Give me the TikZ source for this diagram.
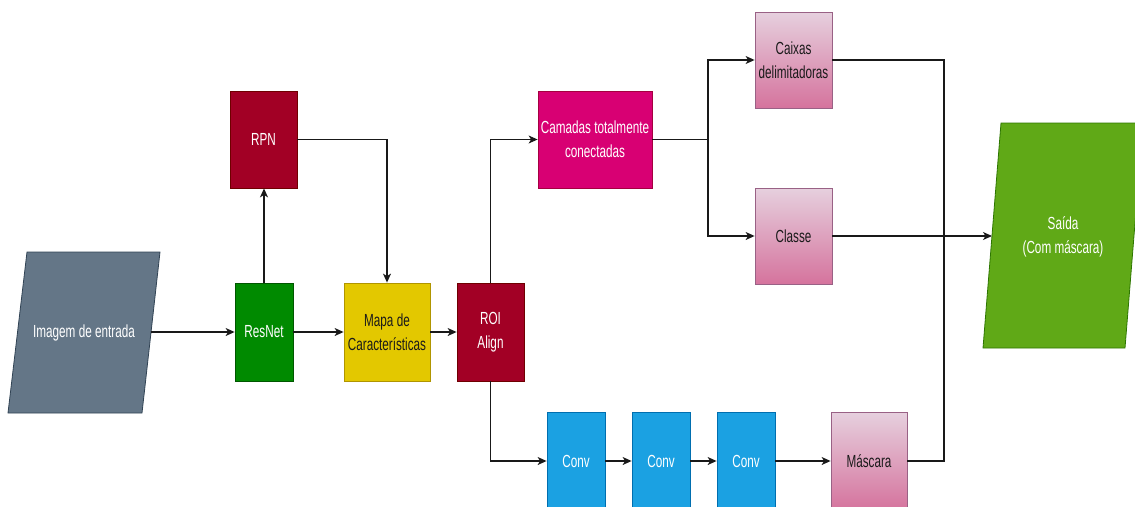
\documentclass[tikz,border=0pt]{standalone}
\usepackage{fontspec}
\setmainfont{Liberation Sans}[FakeStretch=0.67]
\usetikzlibrary{arrows.meta,calc}
\definecolor{inpF}{HTML}{647687}\definecolor{inpD}{HTML}{314354}
\definecolor{grnF}{HTML}{008A00}\definecolor{grnD}{HTML}{005700}
\definecolor{yelF}{HTML}{E3C800}\definecolor{yelD}{HTML}{B09500}
\definecolor{redF}{HTML}{A20025}\definecolor{redD}{HTML}{6F0000}
\definecolor{magF}{HTML}{D80073}\definecolor{magD}{HTML}{A50040}
\definecolor{bluF}{HTML}{1BA1E2}\definecolor{bluD}{HTML}{006EAF}
\definecolor{pnkT}{HTML}{E6D0DE}\definecolor{pnkB}{HTML}{D5739D}\definecolor{pnkD}{HTML}{996185}
\definecolor{outF}{HTML}{60A917}\definecolor{outD}{HTML}{2D7600}
\definecolor{txtD}{HTML}{1A1A1A}
\begin{document}
\begin{tikzpicture}[x=1pt,y=-1pt,
  every node/.style={font=\fontsize{17.5}{24}\selectfont, align=center, inner sep=0pt},
  box/.style={draw, line width=0.8pt, rectangle, text=white},
  pinkbox/.style={box, draw=pnkD, top color=pnkT, bottom color=pnkB, text=txtD},
  conn/.style={line width=1.2pt, draw=black!90},
  arr/.style={conn, -{Stealth[length=9pt,width=8pt,inset=2.5pt]}}]
\useasboundingbox (0,0) rectangle (1135,506);
% input parallelogram
\filldraw[fill=inpF, draw=inpD, line width=0.8pt] (27,252) -- (160,252) -- (142,413) -- (8,413) -- cycle;
\node[text=white] (img) at (84,333) {Imagem de entrada};
\coordinate (imgR) at (151,332);
% output parallelogram
\filldraw[fill=outF, draw=outD, line width=0.8pt] (1001,123) -- (1143,123) -- (1125,348) -- (983,348) -- cycle;
\node[text=white] (out) at (1063,237) {Saída\\(Com máscara)};
\coordinate (outL) at (992,236);
% boxes
\node[box, fill=grnF, draw=grnD, minimum width=58pt, minimum height=98pt] (resnet) at (264,332) {ResNet};
\node[box, fill=yelF, draw=yelD, text=txtD, minimum width=86pt, minimum height=98pt] (mapa) at (387,332) {Mapa de\\Características};
\node[box, fill=redF, draw=redD, minimum width=67pt, minimum height=98pt] (roi) at (490.5,332) {ROI\\Align};
\node[box, fill=redF, draw=redD, minimum width=67pt, minimum height=97pt] (rpn) at (263.5,139.5) {RPN};
\node[box, fill=magF, draw=magD, minimum width=114pt, minimum height=97pt] (fc) at (595,139.5) {Camadas totalmente\\conectadas};
\node[pinkbox, minimum width=77pt, minimum height=96pt] (caixas) at (793.5,60) {Caixas\\delimitadoras};
\node[pinkbox, minimum width=77pt, minimum height=96pt] (classe) at (793.5,236) {Classe};
\node[box, fill=bluF, draw=bluD, minimum width=58pt, minimum height=98pt] (conv1) at (576,461) {Conv};
\node[box, fill=bluF, draw=bluD, minimum width=58pt, minimum height=98pt] (conv2) at (661,461) {Conv};
\node[box, fill=bluF, draw=bluD, minimum width=58pt, minimum height=98pt] (conv3) at (746,461) {Conv};
\node[pinkbox, minimum width=76pt, minimum height=98pt] (mascara) at (869,461) {Máscara};
% connectors
\coordinate (split) at (708,139.5);
\coordinate (merge) at (944,60);
\draw[arr] (imgR) -- (resnet.west);
\draw[arr] (resnet) -- (mapa);
\draw[arr] (mapa) -- (roi);
\draw[arr] (resnet.north) -- (resnet.north |- rpn.south);
\draw[arr] (rpn.east) -| (mapa.north);
\draw[arr] (roi.north) |- (fc.west);
\draw[conn] (fc.east) -- (split);
\draw[arr] (split) |- (caixas.west);
\draw[arr] (split) |- (classe.west);
\draw[conn] (caixas.east) -| (merge |- mascara.east) -- (mascara.east);
\draw[arr] (classe.east) -- (outL);
\draw[arr] (roi.south) |- (conv1.west);
\draw[arr] (conv1) -- (conv2);
\draw[arr] (conv2) -- (conv3);
\draw[arr] (conv3) -- (mascara);
\end{tikzpicture}
\end{document}
